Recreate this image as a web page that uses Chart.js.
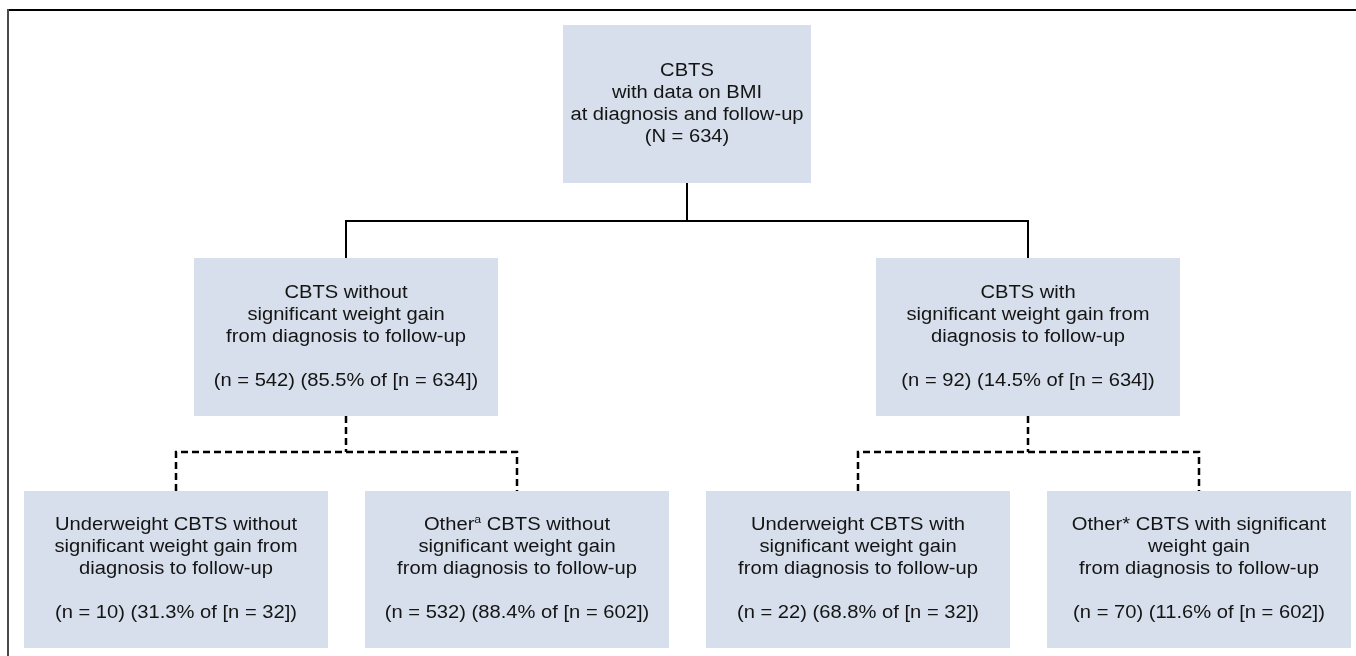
<!DOCTYPE html>
<html>
<head>
<meta charset="utf-8">
<script src="https://cdn.jsdelivr.net/npm/chart.js@4.4.1/dist/chart.umd.min.js"></script>
<style>
  html, body { margin: 0; padding: 0; background: #fff; }
  #wrap { width: 1356px; height: 656px; position: relative; }
</style>
</head>
<body>
<div id="wrap"><canvas id="flow"></canvas></div>
<script>
// cohort numbers
const groupCounts   = [634, 542, 92, 10, 532, 22, 70];
const groupPercents = [null, 85.5, 14.5, 31.3, 88.4, 68.8, 11.6];
const parentCounts  = [null, 634, 634, 32, 602, 32, 602];

// box captions (^a = superscript a)
const boxLabels = [
  ['CBTS', 'with data on BMI', 'at diagnosis and follow-up'],
  ['CBTS without', 'significant weight gain', 'from diagnosis to follow-up'],
  ['CBTS with', 'significant weight gain from', 'diagnosis to follow-up'],
  ['Underweight CBTS without', 'significant weight gain from', 'diagnosis to follow-up'],
  ['Other^a CBTS without', 'significant weight gain', 'from diagnosis to follow-up'],
  ['Underweight CBTS with', 'significant weight gain', 'from diagnosis to follow-up'],
  ['Other* CBTS with significant', 'weight gain', 'from diagnosis to follow-up']
];

// tree structure: parent index of each box, and whether the link is dashed
const parentOf   = [null, 0, 0, 1, 1, 2, 2];
const dashedLink = [false, false, false, true, true, true, true];

// layout (chart units = pixels of the 1356x656 canvas)
const boxCenterX = [687, 346, 1028, 176, 517, 858, 1199];
const boxTier    = [0, 1, 1, 2, 2, 2, 2];
const tierTop    = [25, 258, 491];
const tierBottom = [183, 416, 648];
const tierJoinY  = [null, 221, 452];
const boxWidth   = [248, 304, 304, 304, 304, 304, 304];

const BOX_FILL = '#d6dfeb';
const TEXT_COLOR = '#141414';
const FONT_SIZE = 18;
const LINE_H = 22;
const STRETCH = 1.12;

function boxLines(i) {
  const lines = boxLabels[i].slice();
  if (i === 0) {
    lines.push('(N = ' + groupCounts[i] + ')');
  } else {
    lines.push('');
    lines.push('(n = ' + groupCounts[i] + ') (' + groupPercents[i].toFixed(1) +
      '% of [n = ' + parentCounts[i] + '])');
  }
  return lines;
}

// connectors as line datasets, built from the tree structure
const datasets = [];
for (let p = 0; p < groupCounts.length; p++) {
  const kids = parentOf.map((q, k) => q === p ? k : -1).filter(k => k >= 0);
  if (!kids.length) continue;
  const t = boxTier[kids[0]];
  const dashed = dashedLink[kids[0]];
  const style = {
    showLine: true, pointRadius: 0, borderColor: '#000',
    borderWidth: dashed ? 2.5 : 2, borderDash: dashed ? [7, 4] : [],
    borderCapStyle: 'butt', tension: 0
  };
  // stem down from the parent
  datasets.push(Object.assign({
    data: [{x: boxCenterX[p], y: tierBottom[boxTier[p]]}, {x: boxCenterX[p], y: tierJoinY[t]}]
  }, style));
  // bracket over the children
  const a = kids[0], b = kids[kids.length - 1];
  datasets.push(Object.assign({
    data: [
      {x: boxCenterX[a], y: tierTop[t]},
      {x: boxCenterX[a], y: tierJoinY[t]},
      {x: boxCenterX[b], y: tierJoinY[t]},
      {x: boxCenterX[b], y: tierTop[t]}
    ]
  }, style));
}

function drawRichLine(ctx, text, cx, y) {
  // split on ^x for superscript
  const parts = [];
  let rest = text;
  while (rest.indexOf('^') >= 0) {
    const k = rest.indexOf('^');
    parts.push({t: rest.slice(0, k), sup: false});
    parts.push({t: rest.charAt(k + 1), sup: true});
    rest = rest.slice(k + 2);
  }
  parts.push({t: rest, sup: false});
  const normal = FONT_SIZE + 'px "Liberation Sans", Arial, sans-serif';
  const small = Math.round(FONT_SIZE * 0.62) + 'px "Liberation Sans", Arial, sans-serif';
  let total = 0;
  parts.forEach(pt => {
    ctx.font = pt.sup ? small : normal;
    pt.w = ctx.measureText(pt.t).width;
    total += pt.w;
  });
  ctx.save();
  ctx.translate(cx, y);
  ctx.scale(STRETCH, 1);
  let x = -total / 2;
  parts.forEach(pt => {
    ctx.font = pt.sup ? small : normal;
    ctx.fillText(pt.t, x, pt.sup ? -6 : 0);
    x += pt.w;
  });
  ctx.restore();
}

const flowBoxes = {
  id: 'flowBoxes',
  beforeDatasetsDraw(chart) {
    const ctx = chart.ctx;
    const xs = chart.scales.x, ys = chart.scales.y;
    ctx.save();
    // frame (top and left rules)
    ctx.strokeStyle = '#000';
    ctx.lineWidth = 2;
    ctx.beginPath();
    ctx.moveTo(xs.getPixelForValue(7), ys.getPixelForValue(10));
    ctx.lineTo(xs.getPixelForValue(1356), ys.getPixelForValue(10));
    ctx.stroke();
    ctx.strokeStyle = '#4a4a4a';
    ctx.beginPath();
    ctx.moveTo(xs.getPixelForValue(8), ys.getPixelForValue(9));
    ctx.lineTo(xs.getPixelForValue(8), ys.getPixelForValue(656));
    ctx.stroke();

    for (let i = 0; i < groupCounts.length; i++) {
      const t = boxTier[i];
      const x0 = xs.getPixelForValue(boxCenterX[i] - boxWidth[i] / 2);
      const x1 = xs.getPixelForValue(boxCenterX[i] + boxWidth[i] / 2);
      const y0 = ys.getPixelForValue(tierTop[t]);
      const y1 = ys.getPixelForValue(tierBottom[t]);
      ctx.fillStyle = BOX_FILL;
      ctx.fillRect(x0, y0, x1 - x0, y1 - y0);

      const lines = boxLines(i);
      const cx = (x0 + x1) / 2;
      const cy = (y0 + y1) / 2;
      const start = cy - (lines.length - 1) * LINE_H / 2;
      ctx.fillStyle = TEXT_COLOR;
      ctx.textBaseline = 'middle';
      ctx.textAlign = 'left';
      lines.forEach((ln, j) => {
        if (ln) drawRichLine(ctx, ln, cx, start + j * LINE_H);
      });
    }
    ctx.restore();
  }
};

new Chart(document.getElementById('flow'), {
  type: 'scatter',
  data: { datasets: datasets },
  options: {
    responsive: true,
    maintainAspectRatio: false,
    animation: false,
    layout: { padding: 0 },
    plugins: { legend: { display: false }, tooltip: { enabled: false } },
    scales: {
      x: { type: 'linear', min: 0, max: 1356, display: false },
      y: { type: 'linear', min: 0, max: 656, reverse: true, display: false }
    }
  },
  plugins: [flowBoxes]
});
</script>
</body>
</html>
